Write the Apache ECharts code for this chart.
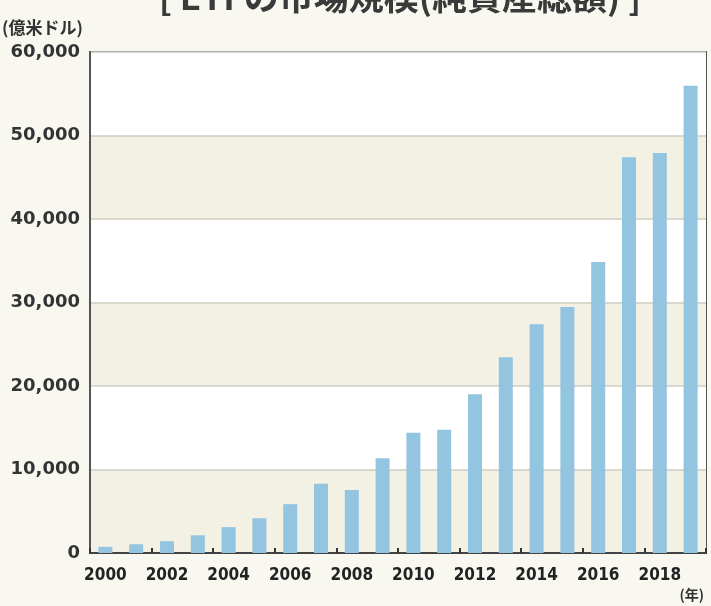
<!DOCTYPE html>
<html><head><meta charset="utf-8">
<script src="https://cdn.jsdelivr.net/npm/echarts@6/dist/echarts.min.js"></script>
<style>html,body{margin:0;padding:0;background:#f8f7f0;}#c{width:711px;height:606px;}</style>
</head><body><div id="c"></div>
<script>
const titleText = '[ ETFの市場規模(純資産総額) ]';
const yUnit = '(億米ドル)';
const xUnit = '(年)';
const years = ['2000','2001','2002','2003','2004','2005','2006','2007','2008','2009','2010','2011','2012','2013','2014','2015','2016','2017','2018','2019'];
const assets = [740, 1050, 1420, 2120, 3100, 4160, 5850, 8300, 7550, 11350, 14400, 14750, 19000, 23450, 27400, 29450, 34850, 47400, 47900, 55950];
const yTicks = [0, 10000, 20000, 30000, 40000, 50000, 60000];

const cjk = '"Noto Sans CJK JP", "Noto Sans", sans-serif';
const num = '"DejaVu Sans", "Noto Sans", sans-serif';
const numC = '"DejaVu Sans Condensed", "DejaVu Sans", sans-serif';
const chart = echarts.init(document.getElementById('c'));
chart.setOption({
  backgroundColor: '#f8f7f0',
  animation: false,
  title: {
    text: titleText, left: 400, textAlign: 'center', top: -21, padding: 0,
    textStyle: {fontFamily: cjk, fontSize: 35, fontWeight: 'bold', color: '#3a3a3a'}
  },
  graphic: [
    {type: 'text', left: 2, top: 19, style: {text: yUnit, font: 'bold 17px ' + cjk, fill: '#333'}},
    {type: 'text', right: 7, top: 588, style: {text: xUnit, font: 'bold 14px ' + cjk, fill: '#333'}}
  ],
  grid: {left: 90, right: 5, top: 52, bottom: 53, show: true, borderColor: '#555', borderWidth: 2, backgroundColor: 'transparent'},
  xAxis: {
    type: 'category', data: years,
    axisLine: {lineStyle: {color: '#444', width: 2}},
    axisTick: {show: true, inside: true, length: 5, lineStyle: {color: '#333', width: 2}},
    axisLabel: {interval: 1, color: '#222', fontFamily: numC, fontSize: 17, fontWeight: 'bold', margin: 14}
  },
  yAxis: {
    type: 'value', min: yTicks[0], max: yTicks[yTicks.length - 1], interval: 10000,
    axisLine: {show: true, lineStyle: {color: '#555', width: 2}},
    axisTick: {show: false},
    axisLabel: {color: '#333', fontFamily: num, fontSize: 18, fontWeight: 'bold', margin: 10,
      formatter: v => v.toLocaleString('en-US')},
    splitLine: {show: true, lineStyle: {color: '#cfccc2', width: 1.5}},
    splitArea: {show: true, areaStyle: {color: ['#f3f1e3', '#ffffff']}}
  },
  series: [{
    type: 'bar', data: assets, barWidth: 14,
    itemStyle: {color: '#93c4e0'}
  }]
});
</script></body></html>
